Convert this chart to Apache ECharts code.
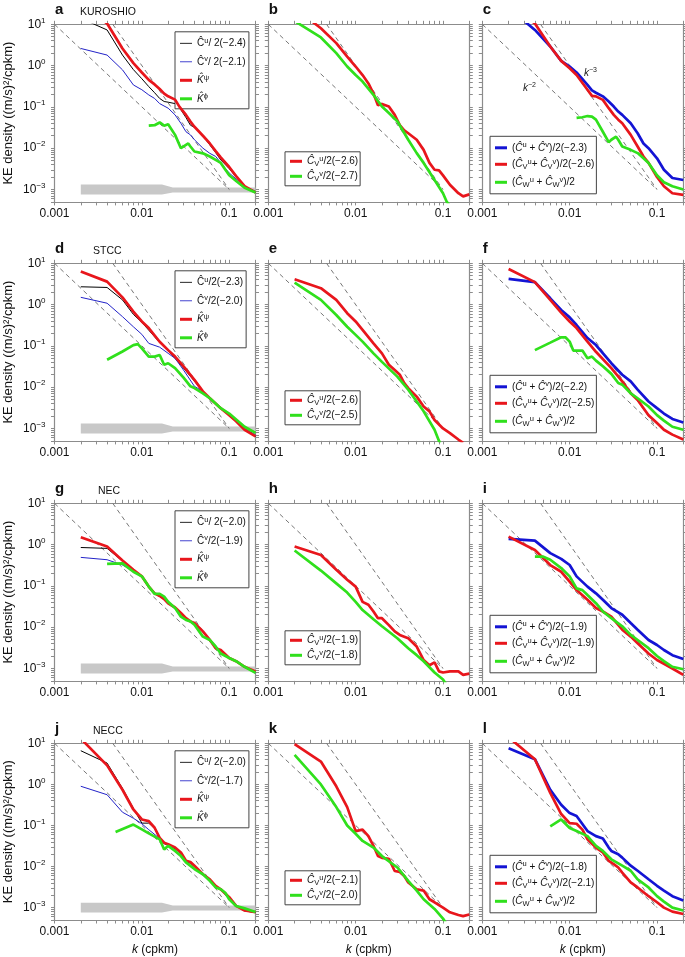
<!DOCTYPE html>
<html><head><meta charset="utf-8">
<script src="https://cdn.jsdelivr.net/npm/echarts@6/dist/echarts.min.js"></script>
<style>html,body{margin:0;padding:0;background:#fff}#c{width:685px;height:957px}</style>
</head><body><div id="c"></div>
<script>
// ---------------- DATA (k in cpkm, KE density in (m/s)^2/cpkm) ----------------
const xTickLabels = [0.001, 0.01, 0.1];
const yTickLabels = [0.001, 0.01, 0.1, 1, 10];
const refK2 = [[0.001, 10], [0.1, 0.001]];          // k^-2 guide
const refK3 = [[0.004642, 10], [0.1, 0.001]];       // k^-3 guide
const bandK  = [0.002, 0.017, 0.0226, 0.2];
const bandHi = [0.00132, 0.00132, 0.00112, 0.00112];
const bandLo = [0.00076, 0.00076, 0.00085, 0.00085];

// a KUROSHIO
const a_Cu = [[0.002,14],[0.004,7.3],[0.006,1.8],[0.008,0.8],[0.01,0.48],[0.012,0.31],[0.014,0.22],[0.016,0.16],[0.018,0.135],[0.02,0.13],[0.024,0.12],[0.028,0.085],[0.032,0.055],[0.036,0.036],[0.04,0.032],[0.05,0.02],[0.06,0.012],[0.07,0.0078],[0.08,0.0052],[0.1,0.0032],[0.12,0.002],[0.15,0.0012],[0.2,0.00085]];
const a_Cv = [[0.002,2.6],[0.004,1.8],[0.006,0.79],[0.008,0.34],[0.01,0.26],[0.012,0.195],[0.014,0.16],[0.016,0.12],[0.02,0.093],[0.024,0.064],[0.028,0.04],[0.032,0.025],[0.036,0.021],[0.04,0.016],[0.05,0.01],[0.06,0.0075],[0.07,0.0063],[0.08,0.0044],[0.1,0.0025],[0.15,0.0012],[0.2,0.0009]];
const a_Kpsi = [[0.002,30],[0.004,10.5],[0.006,2.6],[0.008,1.15],[0.01,0.68],[0.012,0.45],[0.014,0.35],[0.016,0.27],[0.018,0.21],[0.02,0.18],[0.024,0.15],[0.027,0.1],[0.032,0.064],[0.036,0.044],[0.04,0.033],[0.05,0.02],[0.06,0.013],[0.07,0.0085],[0.08,0.006],[0.1,0.0035],[0.12,0.0021],[0.15,0.0012],[0.2,0.00085]];
const a_Kphi = [[0.012,0.035],[0.014,0.036],[0.016,0.042],[0.018,0.035],[0.02,0.038],[0.024,0.021],[0.028,0.010],[0.032,0.012],[0.034,0.013],[0.036,0.011],[0.04,0.0083],[0.05,0.0075],[0.06,0.0063],[0.07,0.0052],[0.08,0.0044],[0.1,0.0022],[0.12,0.0016],[0.15,0.0011],[0.2,0.00085]];
// b
const b_CVu = [[0.002,25],[0.004,8.0],[0.006,3.5],[0.008,1.65],[0.01,0.95],[0.012,0.59],[0.014,0.37],[0.016,0.21],[0.018,0.11],[0.02,0.118],[0.024,0.102],[0.028,0.064],[0.032,0.036],[0.036,0.027],[0.04,0.023],[0.05,0.016],[0.06,0.0091],[0.07,0.0044],[0.08,0.003],[0.09,0.0029],[0.1,0.0022],[0.12,0.0013],[0.15,0.00081],[0.17,0.00068],[0.2,0.00076]];
const b_CVv = [[0.002,12],[0.004,4.8],[0.006,2.0],[0.008,0.95],[0.01,0.59],[0.012,0.41],[0.016,0.195],[0.02,0.102],[0.024,0.071],[0.03,0.045],[0.04,0.016],[0.05,0.0076],[0.06,0.0044],[0.08,0.0017],[0.1,0.00081],[0.11,0.00051],[0.12,0.0004]];
// c
const c_C = [[0.002,25],[0.004,7.3],[0.006,2.9],[0.008,1.3],[0.01,0.95],[0.012,0.68],[0.016,0.34],[0.018,0.25],[0.02,0.22],[0.024,0.18],[0.028,0.135],[0.032,0.102],[0.036,0.077],[0.04,0.064],[0.05,0.04],[0.06,0.023],[0.07,0.013],[0.08,0.01],[0.1,0.0057],[0.12,0.003],[0.15,0.0019],[0.2,0.0017]];
const c_CV = [[0.002,30],[0.004,10.5],[0.006,2.9],[0.008,1.3],[0.01,0.86],[0.012,0.59],[0.016,0.26],[0.018,0.185],[0.02,0.18],[0.024,0.148],[0.028,0.093],[0.032,0.064],[0.036,0.049],[0.04,0.04],[0.05,0.021],[0.06,0.011],[0.07,0.0063],[0.08,0.0044],[0.1,0.002],[0.12,0.0012],[0.15,0.00081],[0.2,0.00074]];
const c_CW = [[0.012,0.054],[0.014,0.056],[0.016,0.06],[0.018,0.058],[0.02,0.049],[0.024,0.025],[0.028,0.014],[0.03,0.016],[0.034,0.019],[0.036,0.016],[0.04,0.011],[0.05,0.0091],[0.06,0.0076],[0.07,0.0057],[0.08,0.0044],[0.1,0.0022],[0.12,0.0015],[0.15,0.0012],[0.2,0.001]];
// d STCC
const d_Cu = [[0.002,2.7],[0.004,2.6],[0.006,1.3],[0.008,0.58],[0.01,0.37],[0.012,0.24],[0.016,0.12],[0.02,0.075],[0.024,0.05],[0.03,0.029],[0.04,0.014],[0.05,0.0079],[0.06,0.0054],[0.08,0.0031],[0.1,0.0021],[0.12,0.0015],[0.15,0.00093],[0.2,0.00064]];
const d_Cv = [[0.002,1.5],[0.004,1.08],[0.006,0.51],[0.008,0.29],[0.01,0.19],[0.012,0.115],[0.016,0.093],[0.02,0.066],[0.024,0.05],[0.03,0.026],[0.04,0.0105],[0.05,0.0079],[0.06,0.0055],[0.08,0.0031],[0.1,0.0021],[0.15,0.001],[0.2,0.0007]];
const d_Kpsi = [[0.002,6.3],[0.004,3.6],[0.006,1.5],[0.008,0.68],[0.01,0.39],[0.012,0.27],[0.016,0.126],[0.02,0.079],[0.024,0.055],[0.03,0.032],[0.04,0.015],[0.05,0.0079],[0.06,0.0054],[0.08,0.0031],[0.1,0.0021],[0.12,0.0015],[0.15,0.00093],[0.2,0.00064]];
const d_Kphi = [[0.004,0.046],[0.006,0.073],[0.008,0.104],[0.009,0.11],[0.01,0.087],[0.012,0.055],[0.014,0.055],[0.016,0.06],[0.018,0.035],[0.02,0.038],[0.024,0.029],[0.03,0.017],[0.036,0.0105],[0.04,0.0095],[0.05,0.0071],[0.06,0.0054],[0.08,0.0031],[0.1,0.0023],[0.15,0.0011],[0.2,0.00078]];
// e
const e_CVu = [[0.002,4.1],[0.004,2.5],[0.006,1.3],[0.008,0.62],[0.01,0.39],[0.012,0.245],[0.016,0.115],[0.02,0.066],[0.024,0.035],[0.028,0.026],[0.032,0.02],[0.036,0.0126],[0.04,0.0095],[0.05,0.0059],[0.06,0.0034],[0.07,0.0026],[0.08,0.0016],[0.1,0.001],[0.12,0.00077],[0.15,0.00054],[0.17,0.00045]];
const e_CVv = [[0.002,3.4],[0.004,1.3],[0.006,0.56],[0.008,0.29],[0.01,0.185],[0.012,0.127],[0.016,0.066],[0.02,0.041],[0.03,0.018],[0.04,0.0087],[0.05,0.0045],[0.06,0.0026],[0.08,0.00093],[0.09,0.0005],[0.1,0.0003]];
// f
const f_C = [[0.002,4.2],[0.004,3.5],[0.006,1.42],[0.008,0.74],[0.01,0.49],[0.012,0.32],[0.016,0.155],[0.02,0.105],[0.03,0.038],[0.04,0.02],[0.05,0.0138],[0.06,0.0087],[0.08,0.0045],[0.1,0.0031],[0.12,0.0023],[0.15,0.0017],[0.2,0.0014]];
const f_CV = [[0.002,7.3],[0.004,3.5],[0.006,1.3],[0.008,0.64],[0.01,0.39],[0.012,0.27],[0.016,0.126],[0.02,0.072],[0.03,0.029],[0.04,0.0138],[0.05,0.0071],[0.06,0.0049],[0.08,0.0021],[0.1,0.00135],[0.12,0.00093],[0.15,0.00071],[0.2,0.00054]];
const f_CW = [[0.004,0.079],[0.006,0.12],[0.008,0.162],[0.009,0.16],[0.01,0.127],[0.011,0.077],[0.014,0.077],[0.016,0.05],[0.018,0.055],[0.02,0.044],[0.024,0.032],[0.03,0.021],[0.036,0.0126],[0.04,0.0115],[0.05,0.0071],[0.06,0.0054],[0.08,0.0034],[0.1,0.0021],[0.12,0.00155],[0.15,0.0011],[0.2,0.00093]];
// g NEC
const g_Cu = [[0.002,0.85],[0.004,0.81],[0.006,0.4],[0.008,0.24],[0.01,0.165],[0.012,0.094],[0.014,0.065],[0.016,0.056],[0.018,0.047],[0.02,0.037],[0.024,0.029],[0.028,0.021],[0.032,0.016],[0.036,0.0135],[0.04,0.012],[0.05,0.0077],[0.06,0.0048],[0.07,0.0031],[0.08,0.0027],[0.1,0.0018],[0.12,0.0015],[0.15,0.0011],[0.2,0.00083]];
const g_Cv = [[0.002,0.49],[0.004,0.43],[0.006,0.32],[0.008,0.23],[0.01,0.165],[0.012,0.094],[0.014,0.064],[0.016,0.063],[0.018,0.054],[0.02,0.04],[0.024,0.029],[0.028,0.018],[0.032,0.015],[0.036,0.0135],[0.04,0.0113],[0.05,0.006],[0.06,0.0048],[0.07,0.0034],[0.08,0.0023],[0.1,0.0018],[0.12,0.0015],[0.15,0.0011],[0.2,0.00078]];
const g_Kpsi = [[0.002,1.5],[0.004,0.9],[0.006,0.41],[0.008,0.245],[0.01,0.17],[0.012,0.096],[0.014,0.066],[0.016,0.057],[0.018,0.048],[0.02,0.038],[0.024,0.03],[0.028,0.022],[0.032,0.0165],[0.036,0.0138],[0.04,0.0126],[0.05,0.0079],[0.06,0.0049],[0.07,0.0031],[0.08,0.0028],[0.1,0.0018],[0.12,0.0015],[0.15,0.0011],[0.2,0.00085]];
const g_Kphi = [[0.004,0.34],[0.006,0.35],[0.008,0.22],[0.01,0.17],[0.012,0.096],[0.014,0.064],[0.016,0.064],[0.018,0.055],[0.02,0.041],[0.024,0.029],[0.028,0.018],[0.032,0.015],[0.036,0.0138],[0.04,0.0115],[0.05,0.0059],[0.06,0.0049],[0.07,0.0034],[0.08,0.0023],[0.1,0.0018],[0.12,0.0015],[0.15,0.0011],[0.2,0.00078]];
// h
const h_CVu = [[0.002,0.9],[0.004,0.56],[0.006,0.245],[0.008,0.141],[0.01,0.096],[0.012,0.041],[0.014,0.035],[0.016,0.024],[0.018,0.0165],[0.02,0.0165],[0.024,0.0112],[0.028,0.0079],[0.032,0.0065],[0.036,0.0059],[0.04,0.0054],[0.05,0.0034],[0.06,0.0016],[0.07,0.0012],[0.08,0.0014],[0.09,0.00085],[0.1,0.0008],[0.12,0.00085],[0.15,0.00085],[0.17,0.0007],[0.2,0.00075]];
const h_CVv = [[0.002,0.72],[0.004,0.235],[0.006,0.115],[0.008,0.069],[0.01,0.041],[0.012,0.026],[0.016,0.0155],[0.02,0.0105],[0.03,0.0054],[0.04,0.0031],[0.05,0.0021],[0.06,0.0015],[0.08,0.0008],[0.1,0.00054],[0.11,0.0004]];
// i
const i_C = [[0.002,1.37],[0.004,1.25],[0.006,0.62],[0.008,0.45],[0.01,0.32],[0.012,0.17],[0.016,0.096],[0.02,0.066],[0.024,0.046],[0.03,0.029],[0.04,0.02],[0.05,0.0126],[0.06,0.0087],[0.08,0.0049],[0.1,0.0037],[0.12,0.0028],[0.15,0.0021],[0.2,0.0017]];
const i_CV = [[0.002,1.56],[0.004,0.74],[0.006,0.32],[0.008,0.22],[0.01,0.127],[0.012,0.079],[0.016,0.046],[0.02,0.029],[0.024,0.024],[0.03,0.018],[0.04,0.0087],[0.05,0.0059],[0.06,0.0041],[0.08,0.0023],[0.1,0.0016],[0.12,0.0013],[0.15,0.001],[0.2,0.0007]];
const i_CW = [[0.004,0.51],[0.005,0.51],[0.006,0.43],[0.008,0.27],[0.01,0.17],[0.012,0.087],[0.014,0.079],[0.016,0.06],[0.02,0.038],[0.024,0.024],[0.03,0.0165],[0.04,0.0105],[0.05,0.0065],[0.06,0.0049],[0.08,0.0031],[0.1,0.002],[0.12,0.0015],[0.15,0.0011],[0.2,0.00096]];
// j NECC
const j_Cu = [[0.002,6.6],[0.004,3.3],[0.006,0.8],[0.008,0.26],[0.01,0.114],[0.012,0.114],[0.014,0.085],[0.016,0.048],[0.018,0.036],[0.02,0.033],[0.024,0.027],[0.028,0.021],[0.032,0.013],[0.036,0.012],[0.04,0.01],[0.05,0.0062],[0.06,0.0047],[0.07,0.0033],[0.08,0.0027],[0.1,0.0017],[0.12,0.0011],[0.15,0.00083],[0.2,0.00076]];
const j_Cv = [[0.002,0.9],[0.004,0.56],[0.006,0.21],[0.008,0.15],[0.01,0.11],[0.012,0.079],[0.016,0.048],[0.02,0.032],[0.024,0.024],[0.028,0.019],[0.032,0.013],[0.04,0.0087],[0.05,0.0064],[0.06,0.0045],[0.08,0.0028],[0.1,0.0016],[0.12,0.0011],[0.15,0.00095],[0.2,0.00077]];
const j_Kpsi = [[0.002,13],[0.004,2.9],[0.006,0.74],[0.008,0.245],[0.01,0.14],[0.012,0.128],[0.014,0.088],[0.016,0.05],[0.018,0.038],[0.02,0.035],[0.024,0.029],[0.028,0.022],[0.032,0.0138],[0.036,0.0129],[0.04,0.0105],[0.05,0.0065],[0.06,0.0049],[0.07,0.0034],[0.08,0.0028],[0.1,0.0018],[0.12,0.0011],[0.15,0.00085],[0.2,0.00078]];
const j_Kphi = [[0.005,0.069],[0.008,0.105],[0.01,0.08],[0.012,0.064],[0.016,0.046],[0.018,0.026],[0.02,0.032],[0.024,0.024],[0.028,0.018],[0.032,0.0126],[0.04,0.0087],[0.05,0.0065],[0.06,0.0045],[0.07,0.0031],[0.08,0.0028],[0.09,0.0023],[0.1,0.0016],[0.12,0.0011],[0.15,0.00096],[0.2,0.00078]];
// k
const k_CVu = [[0.002,9.6],[0.004,3.6],[0.006,0.9],[0.008,0.28],[0.01,0.073],[0.012,0.079],[0.014,0.055],[0.016,0.032],[0.018,0.018],[0.02,0.0163],[0.024,0.0155],[0.028,0.0078],[0.032,0.0074],[0.036,0.0059],[0.04,0.0041],[0.05,0.0028],[0.06,0.0026],[0.07,0.0016],[0.08,0.00135],[0.1,0.001],[0.12,0.00077],[0.15,0.00066],[0.17,0.00062],[0.2,0.00068]];
const k_CVv = [[0.002,5.2],[0.004,1.0],[0.006,0.28],[0.008,0.1],[0.01,0.063],[0.012,0.042],[0.016,0.029],[0.02,0.018],[0.03,0.0095],[0.04,0.0045],[0.05,0.0026],[0.06,0.0016],[0.08,0.00093],[0.1,0.00054],[0.11,0.0004]];
// l
const l_C = [[0.002,7.6],[0.004,4.1],[0.006,0.74],[0.008,0.32],[0.01,0.2],[0.012,0.17],[0.016,0.073],[0.02,0.055],[0.024,0.048],[0.028,0.029],[0.03,0.024],[0.036,0.02],[0.04,0.0165],[0.05,0.0105],[0.06,0.0079],[0.08,0.0049],[0.1,0.0034],[0.12,0.0026],[0.15,0.0019],[0.2,0.0015]];
const l_CV = [[0.002,14],[0.004,4.1],[0.006,0.62],[0.008,0.19],[0.01,0.114],[0.012,0.11],[0.014,0.079],[0.016,0.046],[0.02,0.029],[0.024,0.022],[0.028,0.0138],[0.032,0.0115],[0.036,0.0095],[0.04,0.0071],[0.05,0.0041],[0.06,0.0031],[0.08,0.0019],[0.1,0.00135],[0.12,0.001],[0.15,0.0008],[0.2,0.0007]];
const l_CW = [[0.006,0.095],[0.008,0.14],[0.01,0.087],[0.012,0.073],[0.016,0.055],[0.02,0.032],[0.024,0.024],[0.03,0.015],[0.04,0.0105],[0.05,0.0079],[0.06,0.0049],[0.08,0.0031],[0.1,0.0019],[0.12,0.0014],[0.15,0.001],[0.2,0.00085]];

const letters = ['a','b','c','d','e','f','g','h','i','j','k','l'];
const regions = ['KUROSHIO','STCC','NEC','NECC'];

// legend texts (rich markup)
const L_Cu = e => '{n|Ĉ}{sp|u}{n|/ 2(' + e + ')}';
const L_Cv = e => '{n|Ĉ}{sp|v}{n|/2(' + e + ')}';
const L_Kpsi = '{it|K\u0302}{sp|ψ}';
const L_Kphi = '{it|K\u0302}{sp|ϕ}';
const L_CVu = e => '{it|Ĉ}{sb|V}{sp|u}{n|/2(' + e + ')}';
const L_CVv = e => '{it|Ĉ}{sb|V}{sp|v}{n|/2(' + e + ')}';
const L_C = e => '{n|(}{it|Ĉ}{sp|u}{n| + }{it|Ĉ}{sp|v}{n|)/2(' + e + ')}';
const L_CV = e => '{n|(}{it|Ĉ}{sb|V}{sp|u}{n|+ }{it|Ĉ}{sb|V}{sp|v}{n|)/2(' + e + ')}';
const L_CW = '{n|(}{it|Ĉ}{sb|W}{sp|u}{n| + }{it|Ĉ}{sb|W}{sp|v}{n|)/2}';

const RED = '#e8161c', GREEN = '#30e01c', BLUE = '#1414d4', TBLUE = '#2323c8', BLACK = '#000';
const THICK = 2.7, THIN = 1;
// [data, color, width, label]
const panelSeries = [
  [[a_Cu,BLACK,THIN,L_Cu('−2.4')],[a_Cv,TBLUE,THIN,L_Cv('−2.1').replace('/2','/ 2')],[a_Kpsi,RED,THICK,L_Kpsi],[a_Kphi,GREEN,THICK,L_Kphi]],
  [[b_CVu,RED,THICK,L_CVu('−2.6')],[b_CVv,GREEN,THICK,L_CVv('−2.7')]],
  [[c_C,BLUE,THICK,L_C('−2.3')],[c_CV,RED,THICK,L_CV('−2.6')],[c_CW,GREEN,THICK,L_CW]],
  [[d_Cu,BLACK,THIN,L_Cu('−2.3').replace('/ 2','/2')],[d_Cv,TBLUE,THIN,L_Cv('−2.0')],[d_Kpsi,RED,THICK,L_Kpsi],[d_Kphi,GREEN,THICK,L_Kphi]],
  [[e_CVu,RED,THICK,L_CVu('−2.6')],[e_CVv,GREEN,THICK,L_CVv('−2.5')]],
  [[f_C,BLUE,THICK,L_C('−2.2')],[f_CV,RED,THICK,L_CV('−2.5')],[f_CW,GREEN,THICK,L_CW]],
  [[g_Cu,BLACK,THIN,L_Cu('−2.0')],[g_Cv,TBLUE,THIN,L_Cv('−1.9')],[g_Kpsi,RED,THICK,L_Kpsi],[g_Kphi,GREEN,THICK,L_Kphi]],
  [[h_CVu,RED,THICK,L_CVu('−1.9')],[h_CVv,GREEN,THICK,L_CVv('−1.8')]],
  [[i_C,BLUE,THICK,L_C('−1.9')],[i_CV,RED,THICK,L_CV('−1.9')],[i_CW,GREEN,THICK,L_CW]],
  [[j_Cu,BLACK,THIN,L_Cu('−2.0')],[j_Cv,TBLUE,THIN,L_Cv('−1.7')],[j_Kpsi,RED,THICK,L_Kpsi],[j_Kphi,GREEN,THICK,L_Kphi]],
  [[k_CVu,RED,THICK,L_CVu('−2.1')],[k_CVv,GREEN,THICK,L_CVv('−2.0')]],
  [[l_C,BLUE,THICK,L_C('−1.8')],[l_CV,RED,THICK,L_CV('−2.1')],[l_CW,GREEN,THICK,L_CW]]
];

// ---------------- LAYOUT ----------------
const FF = '"Liberation Sans", Arial, Helvetica, sans-serif';
const COLS = [54.5, 268.3, 482.3];
const ROWS = [24.3, 263.3, 503.3, 743.3];
const GW = 201, GH = 177.6;
const AX = '#8c8c8c';
const regionX = [80, 93, 98, 93];

const xMinor = [];
[0.001, 0.01, 0.1].forEach(d => { for (let m = 1; m <= 9; m++) { const v = +(m * d).toPrecision(3); if (v <= 0.2) xMinor.push(v); } });
const yMinor = [];
[0.0001, 0.001, 0.01, 0.1, 1].forEach(d => { for (let m = 1; m <= 9; m++) { const v = +(m * d).toPrecision(3); if (v >= 0.0005 && v <= 10) yMinor.push(v); } });
yMinor.push(10);

const richLeg = {
  n: {fontSize: 10, fontFamily: FF, color: '#111', lineHeight: 13},
  it: {fontSize: 10, fontFamily: FF, color: '#111', fontStyle: 'italic', lineHeight: 13},
  sp: {fontSize: 7.5, fontFamily: FF, color: '#111', verticalAlign: 'top'},
  sb: {fontSize: 7.5, fontFamily: FF, color: '#111', verticalAlign: 'bottom'}
};
const THIN_ICON = 'path://M0,0L14,0L14,1L0,1Z';

const grid = [], xAxis = [], yAxis = [], series = [], legend = [], title = [];
const labelMap = {};

function yFmt(v) { const e = Math.round(Math.log10(v)); return '{b|10}{e|' + (e < 0 ? '−' + (-e) : e) + '}'; }
function xFmt(v) { return String(+v.toPrecision(1)); }

for (let p = 0; p < 12; p++) {
  const r = Math.floor(p / 3), c = p % 3;
  grid.push({left: COLS[c], top: ROWS[r], width: GW, height: GH});
  const baseX = {gridIndex: p, type: 'log', logBase: 10, min: 0.001, max: 0.2, splitLine: {show: false},
    axisLine: {show: true, lineStyle: {color: AX, width: 1.2}},
    axisTick: {show: true, inside: false, length: 3.5, customValues: xMinor, lineStyle: {color: AX, width: 1}}};
  xAxis.push(Object.assign({}, baseX, {position: 'bottom',
    axisLabel: {show: true, customValues: xTickLabels, formatter: xFmt, fontSize: 12, color: '#111', fontFamily: FF, margin: 6},
    name: r === 3 ? '{i|k} (cpkm)' : '', nameLocation: 'middle', nameGap: 24,
    nameTextStyle: {fontSize: 12, color: '#111', fontFamily: FF, rich: {i: {fontStyle: 'italic', fontSize: 12, fontFamily: FF, color: '#111'}}}}));
  xAxis.push(Object.assign({}, baseX, {position: 'top', axisLabel: {show: false}}));
  const baseY = {gridIndex: p, type: 'log', logBase: 10, min: 0.0005, max: 10, splitLine: {show: false},
    axisLine: {show: true, lineStyle: {color: AX, width: 1.2}},
    axisTick: {show: true, inside: false, length: 3.5, customValues: yMinor, lineStyle: {color: AX, width: 1}}};
  yAxis.push(Object.assign({}, baseY, {position: 'left',
    axisLabel: {show: c === 0, customValues: yTickLabels, formatter: yFmt, margin: 9,
      rich: {b: {fontSize: 12, fontFamily: FF, color: '#111', lineHeight: 16}, e: {fontSize: 8, fontFamily: FF, color: '#111', verticalAlign: 'top'}}},
    name: c === 0 ? 'KE density ((m/s)²/cpkm)' : '', nameLocation: 'middle', nameRotate: 90, nameGap: 40,
    nameTextStyle: {fontSize: 13, color: '#111', fontFamily: FF}}));
  yAxis.push(Object.assign({}, baseY, {position: 'right', axisLabel: {show: false}}));

  const xi = 2 * p, yi = 2 * p;
  if (c === 0) {
    series.push({type: 'custom', xAxisIndex: xi, yAxisIndex: yi, silent: true, z: 1, clip: true,
      data: [[bandK[0], bandLo[0]]],
      renderItem: (params, api) => {
        const pts = bandK.map((k, i) => api.coord([k, bandHi[i]]));
        const lo = bandK.map((k, i) => api.coord([k, bandLo[i]])).reverse();
        return {type: 'polygon', shape: {points: pts.concat(lo)}, style: {fill: '#c8c8c8'}};
      }});
  }
  [refK2, refK3].forEach(ref => series.push({type: 'line', xAxisIndex: xi, yAxisIndex: yi, data: ref, symbol: 'none', silent: true, z: 2,
    lineStyle: {color: '#777', width: 1, type: [4.5, 3.5]}, animation: false}));

  const legData = [];
  panelSeries[p].forEach((s, idx) => {
    const name = letters[p] + idx;
    labelMap[name] = s[3];
    series.push({type: 'line', name, xAxisIndex: xi, yAxisIndex: yi, data: s[0], symbol: 'none', showSymbol: false,
      color: s[1], lineStyle: {color: s[1], width: s[2]}, z: 3 + idx, clip: true});
    legData.push(s[2] === THIN ? {name, icon: THIN_ICON} : {name, icon: 'rect'});
  });
  const legPos = c === 0 ? {left: 175, top: ROWS[r] + 7.5, padding: [5, 3, 5, 5], itemGap: 7}
    : c === 1 ? {left: 285, top: ROWS[r] + 127.5, padding: [3, 2, 3, 5], itemGap: 2}
    : {left: 490, top: ROWS[r] + 112, padding: [5, 2, 5, 5], itemGap: 5}
  ;
  legend.push(Object.assign({orient: 'vertical', data: legData, selectedMode: false, itemWidth: 12, itemHeight: 3,
    borderColor: '#444', borderWidth: 1, backgroundColor: '#fff', itemStyle: {borderWidth: 0},
    formatter: n => labelMap[n], textStyle: {fontSize: 10, fontFamily: FF, color: '#111', rich: richLeg}}, legPos));

  title.push({text: letters[p], left: COLS[c] + 0.5, top: ROWS[r] - 22, padding: 0, textStyle: {fontSize: 15, fontWeight: 'bold', color: '#111', fontFamily: FF}});
  if (c === 0) title.push({text: regions[r], left: regionX[r], top: ROWS[r] - 18, padding: 0, textStyle: {fontSize: 10.5, fontWeight: 'normal', color: '#111', fontFamily: FF}});
}

const option = {
  animation: false,
  backgroundColor: '#fff',
  title, grid, xAxis, yAxis, series, legend,
  graphic: [
    {type: 'text', left: 584, top: 67, style: {text: '{i|k}{s|−3}', rich: {i: {fontStyle: 'italic', fontSize: 10, fontFamily: FF, fill: '#222', lineHeight: 12}, s: {fontSize: 7, fontFamily: FF, fill: '#222', verticalAlign: 'top'}}}},
    {type: 'text', left: 523, top: 82, style: {text: '{i|k}{s|−2}', rich: {i: {fontStyle: 'italic', fontSize: 10, fontFamily: FF, fill: '#222', lineHeight: 12}, s: {fontSize: 7, fontFamily: FF, fill: '#222', verticalAlign: 'top'}}}}
  ]
};
const chart = echarts.init(document.getElementById('c'), null, {renderer: 'canvas'});
chart.setOption(option);
</script></body></html>
